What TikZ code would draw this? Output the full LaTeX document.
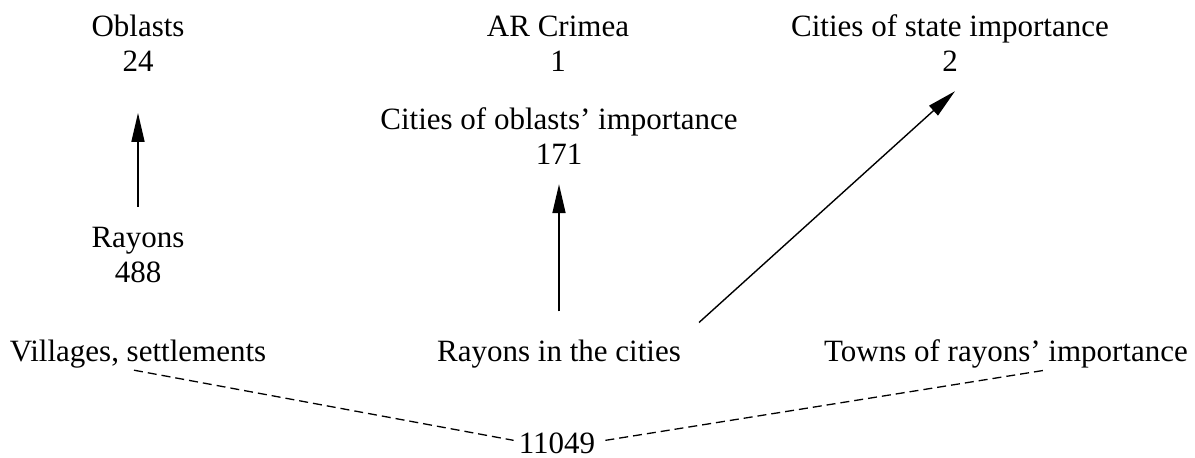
\documentclass[tikz,border=0pt]{standalone}
\usepackage{fontspec}
\setmainfont{Liberation Serif}
\usetikzlibrary{arrows.meta}
\begin{document}
\begin{tikzpicture}[x=1pt,y=-1pt,
  lbl/.style={font=\fontsize{31}{35}\selectfont, align=center, inner sep=0pt, anchor=base},
  arr/.style={-{Triangle[length=29pt,width=13pt]}, line width=1.6pt},
  dsh/.style={line width=1.3pt, dash pattern=on 9pt off 5pt}]
\useasboundingbox (0,0) rectangle (1195,458);
\node[lbl] (obl) at (138,71) {Oblasts\\24};
\node[lbl] (crim) at (558,71) {AR Crimea\\1};
\node[lbl] (csi) at (950,71) {Cities of state importance\\2};
\node[lbl] (coi) at (559,164) {Cities of oblasts’ importance\\171};
\node[lbl] (ray) at (138,282) {Rayons\\488};
\node[lbl] (vil) at (138,361) {Villages, settlements};
\node[lbl] (rc) at (559,361) {Rayons in the cities};
\node[lbl] (trn) at (1006,361) {Towns of rayons’ importance};
\node[lbl] (num) at (557,453) {11049};
\draw[arr] ([yshift=19.7pt]ray.north) -- ([yshift=-41.7pt]obl.south);
\draw[arr] ([yshift=27.8pt]rc.north) -- ([yshift=-20pt]coi.south);
\draw[arr, line width=1.4pt] ([xshift=18pt,yshift=16.8pt]rc.north east) -- ([xshift=5pt,yshift=-20pt]csi.south);
\draw[dsh] ([xshift=-4pt,yshift=-2.3pt]vil.south) -- ([xshift=-5pt,yshift=2.5pt]num.west);
\draw[dsh] ([xshift=10pt,yshift=2.5pt]num.east) -- ([xshift=39pt,yshift=-2.3pt]trn.south);
\end{tikzpicture}
\end{document}
